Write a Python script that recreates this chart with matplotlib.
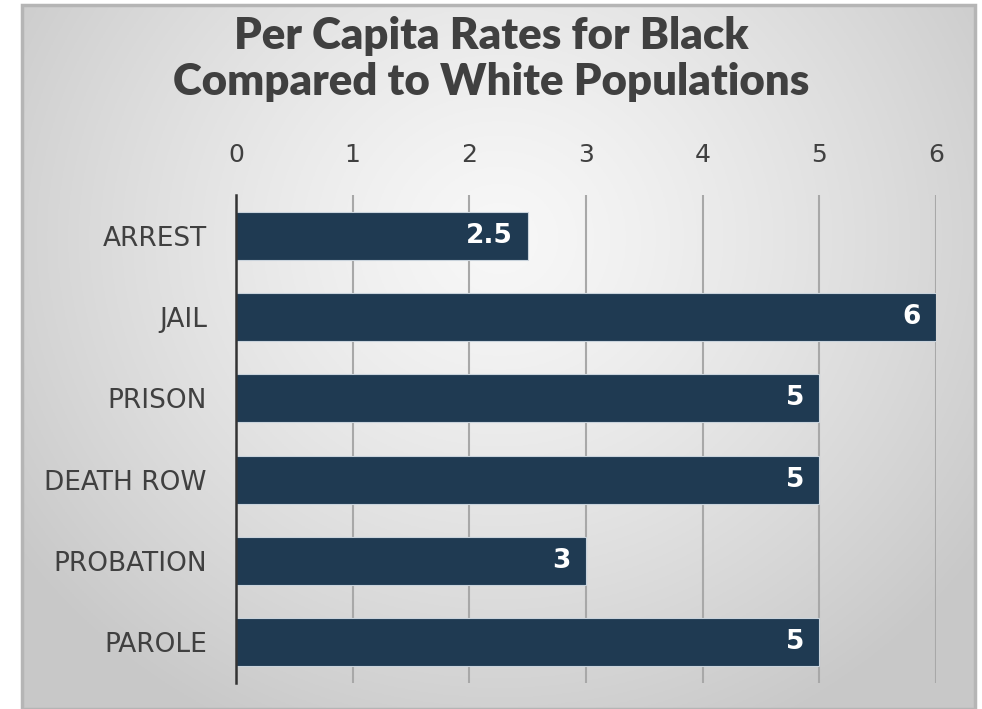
import numpy as np
import matplotlib
matplotlib.use("Agg")
import matplotlib.pyplot as plt
from matplotlib.patches import Rectangle

categories = ["ARREST", "JAIL", "PRISON", "DEATH ROW", "PROBATION", "PAROLE"]
values = [2.5, 6, 5, 5, 3, 5]
value_labels = ["2.5", "6", "5", "5", "3", "5"]
xticks = [0, 1, 2, 3, 4, 5, 6]
title = "Per Capita Rates for Black\nCompared to White Populations"

W, H = 982, 709
fig = plt.figure(figsize=(W / 100, H / 100), dpi=100)
fig.patch.set_facecolor("white")

# background panel with radial gradient
bg = fig.add_axes([22 / W, 0, (975 - 22) / W, 1 - 5 / H])
bg.set_axis_off()
ny, nx = 300, 400
yy, xx = np.mgrid[0:ny, 0:nx]
cx, cy = nx * 0.5, ny * 0.33
r = np.sqrt(((xx - cx) / (nx * 0.62)) ** 2 + ((yy - cy) / (ny * 0.78)) ** 2)
r = np.clip(r, 0, 1)
light = np.array([0.97, 0.97, 0.97])
dark = np.array([0.785, 0.785, 0.785])
img = light[None, None, :] + (dark - light)[None, None, :] * (r[..., None] ** 1.3)
bg.imshow(img, aspect="auto", extent=[0, 1, 0, 1], origin="upper")
bg.set_xlim(0, 1)
bg.set_ylim(0, 1)
bg.add_patch(Rectangle((0, 0), 1, 1, fill=False, edgecolor="#b5b5b5", lw=2.5,
                       transform=bg.transAxes, clip_on=False))

ax = fig.add_axes([236 / W, 1 - 683 / H, (936 - 236) / W, (683 - 195) / H])
ax.patch.set_alpha(0)
y = np.arange(len(categories))
ax.barh(y, values, height=0.59, color="#1f3a52", edgecolor="#c9d3dc",
        linewidth=0.8, zorder=3)
ax.set_ylim(len(categories) - 0.5, -0.5)
ax.set_xlim(0, 6)
ax.set_xticks(xticks)
ax.xaxis.tick_top()
ax.tick_params(axis="x", length=0, pad=20, labelsize=18, labelcolor="#404040")
ax.tick_params(axis="y", length=0, pad=21, labelsize=19, labelcolor="#404040")
ax.set_yticks(y)
ax.set_yticklabels(categories)
ax.grid(axis="x", color="#a8a8a8", lw=1.5, zorder=1)
for s in ["top", "right", "bottom"]:
    ax.spines[s].set_visible(False)
ax.spines["left"].set_color("#333333")
ax.spines["left"].set_linewidth(1.8)
ax.spines["left"].set_zorder(4)

for yi, v, lab in zip(y, values, value_labels):
    ax.text(v - 0.13, yi, lab, ha="right", va="center", color="white",
            fontsize=19, fontweight="bold", zorder=5)

fig.text(0.5, 1 - 59 / H, title, ha="center", va="center", fontsize=31.5,
         family=["Lato", "DejaVu Sans"], fontweight="heavy", color="#404040",
         linespacing=1.18)

fig.savefig("out.png", dpi=100)
